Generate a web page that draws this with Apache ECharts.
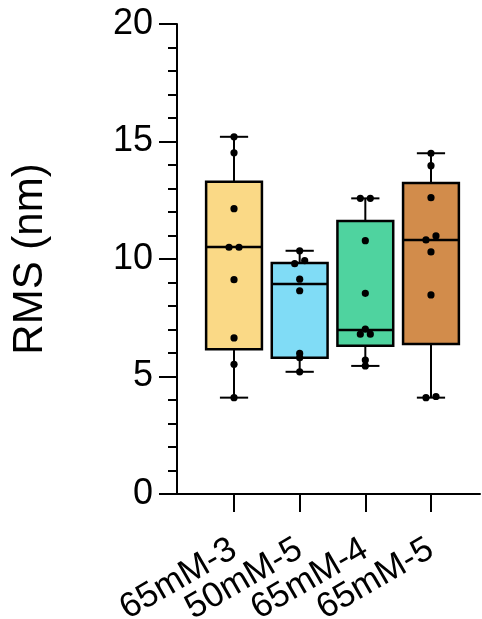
<!DOCTYPE html>
<html><head><meta charset="utf-8">
<script src="https://cdn.jsdelivr.net/npm/echarts@6/dist/echarts.min.js"></script>
<style>html,body{margin:0;padding:0;background:#fff}#c{width:482px;height:619px}</style>
</head><body><div id="c"></div>
<script>
// ---- data ----
const categories = ['65mM-3', '50mM-5', '65mM-4', '65mM-5'];
const yTicks = [0, 5, 10, 15, 20];
const pointsG1 = [4.10, 5.52, 6.64, 9.12, 10.50, 10.50, 12.14, 14.52, 15.20];
const pointsG2 = [5.20, 5.80, 5.98, 8.65, 9.14, 9.80, 9.93, 10.35];
const pointsG3 = [5.45, 5.70, 6.80, 6.80, 7.02, 8.54, 10.78, 12.58, 12.58];
const pointsG4 = [4.10, 4.15, 8.47, 10.30, 10.81, 10.98, 12.61, 13.97, 14.50];
const boxMin = [4.10, 5.20, 5.45, 4.10];
const boxQ1 = [6.16, 5.80, 6.31, 6.38];
const boxMedian = [10.51, 8.94, 6.98, 10.81];
const boxQ3 = [13.29, 9.83, 11.62, 13.23];
const boxMax = [15.20, 10.35, 12.58, 14.50];
const colors = ['#FAD986', '#80DCF6', '#4FD39F', '#D28C4B'];

const FONT = '"Liberation Sans", Arial, sans-serif';
const groups = [pointsG1, pointsG2, pointsG3, pointsG4];

// box data: [categoryIndex, min, q1, median, q3, max]
const boxData = categories.map((c, i) => [i, boxMin[i], boxQ1[i], boxMedian[i], boxQ3[i], boxMax[i]]);

// points with lane (side-by-side spreading of nearly equal values)
const pointData = [];
groups.forEach((vals, gi) => {
  const s = vals.slice().sort((a, b) => a - b);
  let cluster = [s[0]];
  const flush = () => {
    const n = cluster.length;
    cluster.forEach((v, k) => {
      const lane = n === 1 ? 0 : (k - (n - 1) / 2) * (2 / Math.max(1, n - 1));
      pointData.push([gi, v, lane]);
    });
  };
  for (let i = 1; i < s.length; i++) {
    if (s[i] - s[i - 1] < 0.175) cluster.push(s[i]);
    else { flush(); cluster = [s[i]]; }
  }
  flush();
});

const TOP = 24, BOTTOM = 125;
const chart = echarts.init(document.getElementById('c'), null, { renderer: 'canvas' });
chart.setOption({
  animation: false,
  backgroundColor: '#fff',
  grid: [
    { left: 177, right: 2, top: TOP, bottom: BOTTOM, containLabel: false, outerBoundsMode: 'none' },
    { left: 201.2, right: 18.2, top: TOP, bottom: BOTTOM, containLabel: false, outerBoundsMode: 'none' }
  ],
  xAxis: [
    {
      gridIndex: 0, type: 'value', min: 0, max: 1,
      splitLine: { show: false }, axisTick: { show: false }, axisLabel: { show: false },
      axisLine: { show: true, lineStyle: { color: '#000', width: 2 } }
    },
    {
      gridIndex: 1, type: 'category', data: categories, boundaryGap: true,
      axisLine: { show: false },
      axisTick: { show: true, alignWithLabel: true, interval: 0, length: 18, lineStyle: { color: '#000', width: 2 } },
      axisLabel: { interval: 0, rotate: 30, margin: 53, color: '#000', fontSize: 35, fontFamily: FONT },
      splitLine: { show: false }
    }
  ],
  yAxis: [
    {
      gridIndex: 0, type: 'value', min: 0, max: 20, interval: 5,
      name: 'RMS (nm)', nameLocation: 'middle', nameGap: 126,
      nameTextStyle: { color: '#000', fontSize: 42, fontFamily: FONT },
      splitLine: { show: false },
      axisLine: { show: true, lineStyle: { color: '#000', width: 2 } },
      axisTick: { show: true, length: 18, lineStyle: { color: '#000', width: 2 } },
      minorTick: { show: true, splitNumber: 5, length: 9, lineStyle: { color: '#000', width: 2 } },
      axisLabel: {
        margin: 24, color: '#000', fontSize: 36, fontFamily: FONT,
        formatter: v => (yTicks.indexOf(v) >= 0 ? String(v) : '')
      }
    },
    {
      gridIndex: 1, type: 'value', min: 0, max: 20, interval: 5, show: false
    }
  ],
  series: [
    {
      type: 'custom',
      xAxisIndex: 1, yAxisIndex: 1,
      data: boxData,
      encode: { x: 0, y: [1, 2, 3, 4, 5] },
      renderItem: function (params, api) {
        const x = api.value(0);
        const pMin = api.coord([x, api.value(1)]);
        const pQ1 = api.coord([x, api.value(2)]);
        const pMed = api.coord([x, api.value(3)]);
        const pQ3 = api.coord([x, api.value(4)]);
        const pMax = api.coord([x, api.value(5)]);
        const cx = pMin[0];
        const band = api.size([1, 0])[0];
        const halfW = band * 0.85 / 2;
        const capHalf = band * 0.43 / 2;
        const ls = { stroke: '#000', lineWidth: 2 };
        return {
          type: 'group',
          children: [
            { type: 'line', shape: { x1: cx, y1: pMin[1], x2: cx, y2: pQ1[1] }, style: ls },
            { type: 'line', shape: { x1: cx, y1: pQ3[1], x2: cx, y2: pMax[1] }, style: ls },
            { type: 'line', shape: { x1: cx - capHalf, y1: pMin[1], x2: cx + capHalf, y2: pMin[1] }, style: ls },
            { type: 'line', shape: { x1: cx - capHalf, y1: pMax[1], x2: cx + capHalf, y2: pMax[1] }, style: ls },
            { type: 'rect', shape: { x: cx - halfW, y: pQ3[1], width: 2 * halfW, height: pQ1[1] - pQ3[1] },
              style: { fill: colors[params.dataIndex], stroke: '#000', lineWidth: 2.5 } },
            { type: 'line', shape: { x1: cx - halfW, y1: pMed[1], x2: cx + halfW, y2: pMed[1] },
              style: { stroke: '#000', lineWidth: 2.5 } }
          ]
        };
      },
      z: 2
    },
    {
      type: 'custom',
      xAxisIndex: 1, yAxisIndex: 1,
      data: pointData,
      encode: { x: 0, y: 1 },
      renderItem: function (params, api) {
        const p = api.coord([api.value(0), api.value(1)]);
        const lane = api.value(2);
        return { type: 'circle', shape: { cx: p[0] + lane * 5, cy: p[1], r: 3.6 }, style: { fill: '#000' } };
      },
      z: 3
    }
  ]
});
</script>
</body></html>
